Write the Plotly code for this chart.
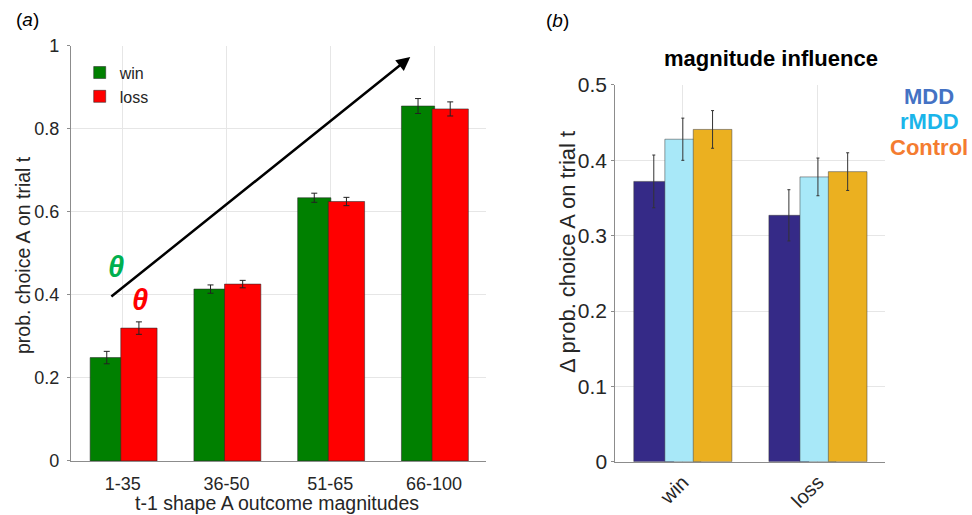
import plotly.graph_objects as go

# ---------------- data ----------------
mag_bins = ["1-35", "36-50", "51-65", "66-100"]
win_prob = [0.249, 0.414, 0.634, 0.855]
win_err = [0.015, 0.010, 0.011, 0.018]
loss_prob = [0.320, 0.426, 0.625, 0.848]
loss_err = [0.015, 0.009, 0.010, 0.017]

outcomes = ["win", "loss"]
mdd_vals = [0.372, 0.327]
mdd_err = [0.035, 0.034]
rmdd_vals = [0.428, 0.378]
rmdd_err = [0.028, 0.025]
ctrl_vals = [0.441, 0.385]
ctrl_err = [0.025, 0.025]

y_ticks_a = [0, 0.2, 0.4, 0.6, 0.8, 1]
y_ticks_b = [0, 0.1, 0.2, 0.3, 0.4, 0.5]

FONT = "Liberation Sans, Arial, sans-serif"
TICKC = "#262626"
GRID = "#E6E6E6"
AXC = "#8C8C8C"

fig = go.Figure()

# ---------------- panel (a) ----------------
fig.add_trace(go.Bar(
    x=mag_bins, y=win_prob, name="win", xaxis="x", yaxis="y",
    marker=dict(color="#008000", line=dict(color="rgba(40,40,40,0.55)", width=1)),
    offset=-0.315, width=0.32,
    error_y=dict(type="data", array=win_err, color="#222222", thickness=1, width=3),
))
fig.add_trace(go.Bar(
    x=mag_bins, y=loss_prob, name="loss", xaxis="x", yaxis="y",
    marker=dict(color="#FF0000", line=dict(color="rgba(40,40,40,0.55)", width=1)),
    offset=-0.02, width=0.35,
    error_y=dict(type="data", array=loss_err, color="#222222", thickness=1, width=3),
))

# ---------------- panel (b) ----------------
for name, vals, err, col, off, wd in [
    ("MDD", mdd_vals, mdd_err, "#352A87", -0.363, 0.296),
    ("rMDD", rmdd_vals, rmdd_err, "#A8E8F8", -0.133, 0.266),
    ("Control", ctrl_vals, ctrl_err, "#EBB020", 0.077, 0.286),
]:
    fig.add_trace(go.Bar(
        x=outcomes, y=vals, name=name, xaxis="x2", yaxis="y2", showlegend=False,
        marker=dict(color=col, line=dict(color="rgba(60,60,60,0.5)", width=1)),
        offset=off, width=wd,
        error_y=dict(type="data", array=err, color="#333333", thickness=1, width=1.5),
    ))

axis_common = dict(showline=True, linecolor=AXC, linewidth=1, showgrid=True,
                   gridcolor=GRID, gridwidth=1, zeroline=False,
                   fixedrange=True, automargin=False)

fig.update_layout(
    width=972, height=515,
    margin=dict(l=0, r=0, t=0, b=0, autoexpand=False),
    paper_bgcolor="white", plot_bgcolor="white",
    barmode="overlay",
    font=dict(family=FONT, color=TICKC),
    xaxis=dict(domain=[0.073, 0.5], anchor="y", type="category",
               range=[-0.5, 3.5], tickfont=dict(size=18, color=TICKC),
               ticks="", ticklabelstandoff=6, **axis_common),
    yaxis=dict(domain=[0.105, 0.911], anchor="x", range=[0, 1],
               tickvals=y_ticks_a, ticktext=["0", "0.2", "0.4", "0.6", "0.8", "1"],
               tickfont=dict(size=18, color=TICKC), ticks="outside", ticklen=3,
               tickcolor=AXC, ticklabelstandoff=4, **axis_common),
    xaxis2=dict(domain=[0.633, 0.911], anchor="y2", type="category",
                range=[-0.5, 1.5], tickangle=-45, ticks="",
                tickfont=dict(size=20, color=TICKC), **axis_common),
    yaxis2=dict(domain=[0.1035, 0.835], anchor="x2", range=[0, 0.5],
                tickvals=y_ticks_b, ticktext=["0", "0.1", "0.2", "0.3", "0.4", "0.5"],
                tickfont=dict(size=21, color=TICKC), ticks="outside", ticklen=3,
                tickcolor=AXC, ticklabelstandoff=0, **axis_common),
    legend=dict(x=0.082, y=0.892, xanchor="left", yanchor="top",
                bgcolor="rgba(0,0,0,0)", font=dict(size=16, color="#262626"),
                itemwidth=30, tracegroupgap=0),
)

ann = []
# arrow
ann.append(dict(x=2.77, y=0.973, ax=-0.125, ay=0.393, xref="x", yref="y",
                axref="x", ayref="y", text="", showarrow=True,
                arrowhead=2, arrowsize=1.1, arrowwidth=2.5, arrowcolor="black"))
# thetas
ann.append(dict(x=-0.07, y=0.468, xref="x", yref="y", text="<b><i>θ</i></b>",
                xanchor="center", yanchor="middle",
                showarrow=False, font=dict(size=29, color="#00B050")))
ann.append(dict(x=0.17, y=0.388, xref="x", yref="y", text="<b><i>θ</i></b>",
                xanchor="center", yanchor="middle",
                showarrow=False, font=dict(size=29, color="#FF0000")))


def pa(px, py, text, size, color, angle=0, xanchor="center"):
    return dict(x=px / 972, y=1 - py / 515, xref="paper", yref="paper",
                xanchor=xanchor, yanchor="middle", text=text, textangle=angle,
                showarrow=False, font=dict(size=size, color=color))


# panel labels
ann.append(pa(27, 19, "(<i>a</i>)", 19, "black"))
ann.append(pa(557, 21, "(<i>b</i>)", 19, "black"))
# axis titles
ann.append(pa(23, 255, "prob. choice A on trial t", 19.5, TICKC, angle=-90))
ann.append(pa(277, 503, "t-1 shape A outcome magnitudes", 19.5, TICKC))
ann.append(pa(568, 252, "Δ prob. choice A on trial t", 22, TICKC, angle=-90))
ann.append(pa(771, 58, "<b>magnitude influence</b>", 22, "black"))
# group labels (right)
for txt, yy, col in [("MDD", 97, "#4472C4"), ("rMDD", 122, "#1BB5EA"),
                     ("Control", 147, "#F47C30")]:
    ann.append(pa(929, yy, "<b>" + txt + "</b>", 22, col))
fig.update_layout(annotations=ann)

fig.write_html("out.html")
